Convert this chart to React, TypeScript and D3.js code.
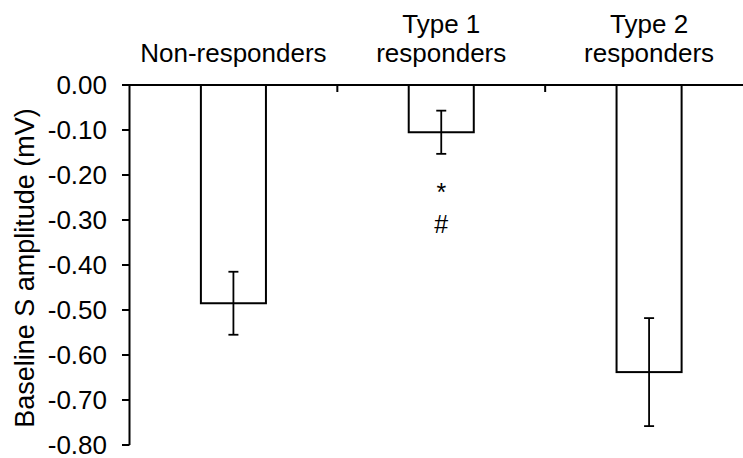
import * as d3 from "d3";

const CATEGORIES = ["Non-responders", "Type 1 responders", "Type 2 responders"];
const CATEGORY_LINES = [["Non-responders"], ["Type 1", "responders"], ["Type 2", "responders"]];
const MEANS = [-0.485, -0.105, -0.638];
const ERRORS = [0.07, 0.048, 0.12];
const MARKS = [[], ["*", "#"], []];
const Y_TICKS = [0, -0.1, -0.2, -0.3, -0.4, -0.5, -0.6, -0.7, -0.8];

const W = 743, H = 458;
const FONT = "'Liberation Sans', Arial, sans-serif";

export default function App() {
  const x = d3.scaleBand<string>().domain(CATEGORIES).range([129.5, 753]).padding(0);
  const y = d3.scaleLinear().domain([0, -0.8]).range([85, 445]);
  const bw = x.bandwidth() * 0.313;
  const x0 = x.range()[0];

  return (
    <svg width={W} height={H} style={{ position: "absolute", left: 0, top: 0, background: "#fff" }}
      fontFamily={FONT}>
      {/* bars */}
      {CATEGORIES.map((c, i) => {
        const cx = x(c)! + x.bandwidth() / 2;
        return (
          <rect key={c} x={cx - bw / 2} y={y(0)} width={bw} height={y(MEANS[i]) - y(0)}
            fill="#fff" stroke="#000" strokeWidth={2} />
        );
      })}

      {/* error bars */}
      {CATEGORIES.map((c, i) => {
        const cx = x(c)! + x.bandwidth() / 2;
        const hi = y(MEANS[i] + ERRORS[i]);
        const lo = y(MEANS[i] - ERRORS[i]);
        return (
          <g key={c} stroke="#000" strokeWidth={1.8}>
            <line x1={cx} x2={cx} y1={hi} y2={lo} />
            <line x1={cx - 5} x2={cx + 5} y1={hi} y2={hi} />
            <line x1={cx - 5} x2={cx + 5} y1={lo} y2={lo} />
          </g>
        );
      })}

      {/* significance marks */}
      {CATEGORIES.map((c, i) => {
        const cx = x(c)! + x.bandwidth() / 2;
        const lo = y(MEANS[i] - ERRORS[i]);
        return MARKS[i].map((m, j) => (
          <text key={c + m} x={cx} y={lo + 47 + j * 32} textAnchor="middle" fontSize={25}>{m}</text>
        ));
      })}

      {/* top axis */}
      <line x1={x0} x2={W} y1={y(0)} y2={y(0)} stroke="#000" strokeWidth={2} />
      {CATEGORIES.slice(1).map(c => (
        <line key={c} x1={x(c)} x2={x(c)} y1={y(0)} y2={y(0) + 7} stroke="#000" strokeWidth={2} />
      ))}
      {CATEGORY_LINES.map((lines, i) => {
        const cx = x(CATEGORIES[i])! + x.bandwidth() / 2;
        return lines.map((t, j) => (
          <text key={i + "-" + j} x={cx} y={62 - (lines.length - 1 - j) * 29} textAnchor="middle"
            fontSize={26} fill="#000">{t}</text>
        ));
      })}

      {/* y axis */}
      <line x1={x0} x2={x0} y1={y(0) - 1} y2={y(-0.8)} stroke="#000" strokeWidth={2} />
      {Y_TICKS.map(t => (
        <g key={t}>
          <line x1={x0 - 7.5} x2={x0} y1={y(t)} y2={y(t)} stroke="#000" strokeWidth={2} />
          <text x={107} y={y(t)} dy="0.35em" textAnchor="end" fontSize={26} fill="#000">
            {t.toFixed(2)}
          </text>
        </g>
      ))}
      <text transform={`translate(34,${(y(0) + y(-0.8)) / 2 + 3}) rotate(-90)`} textAnchor="middle"
        fontSize={27} fill="#000">Baseline S amplitude (mV)</text>
    </svg>
  );
}
